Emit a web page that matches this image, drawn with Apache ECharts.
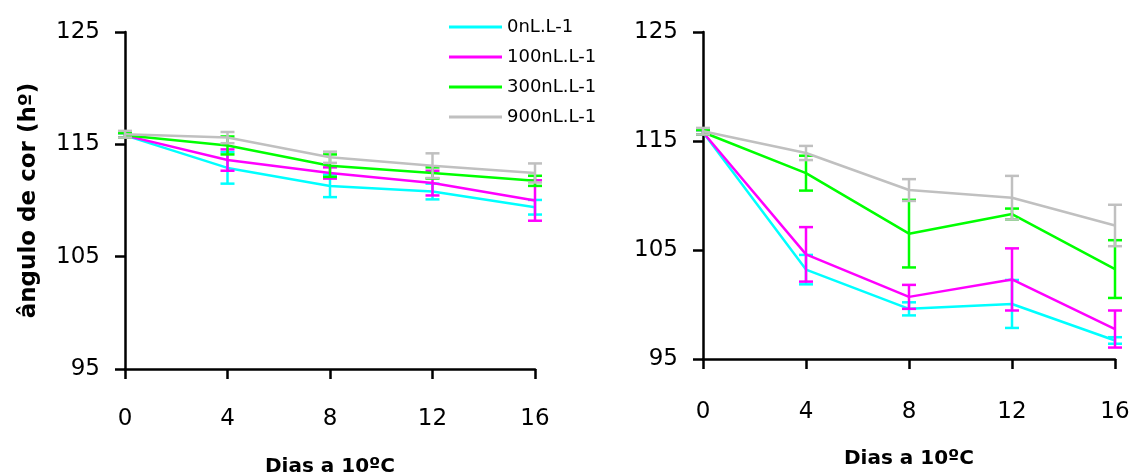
<!DOCTYPE html>
<html>
<head>
<meta charset="utf-8">
<script src="https://cdn.jsdelivr.net/npm/echarts@6/dist/echarts.min.js"></script>
<style>
  html, body { margin: 0; padding: 0; background: #fff; }
  #chart { width: 1132px; height: 476px; }
</style>
</head>
<body>
<div id="chart"></div>
<script>
// Storage days at 10 ºC
const days = [0, 4, 8, 12, 16];
const seriesNames = ['0nL.L-1', '100nL.L-1', '300nL.L-1', '900nL.L-1'];
const seriesColors = ['#00ffff', '#ff00ff', '#00ff00', '#c0c0c0'];
const yTicks = [95, 105, 115, 125];

// Panel 1: mean hue angle and standard error per treatment
const left0 = [115.8, 112.9, 111.3, 110.8, 109.4];
const left0Err = [0.2, 1.4, 1.0, 0.7, 0.65];
const left100 = [115.8, 113.6, 112.45, 111.55, 110.0];
const left100Err = [0.2, 0.95, 0.5, 1.1, 1.8];
const left300 = [115.8, 114.9, 113.1, 112.45, 111.75];
const left300Err = [0.2, 0.8, 1.0, 0.5, 0.45];
const left900 = [115.9, 115.6, 113.85, 113.1, 112.45];
const left900Err = [0.3, 0.5, 0.5, 1.1, 0.85];

// Panel 2
const right0 = [115.8, 103.2, 99.6, 100.05, 96.7];
const right0Err = [0.2, 1.35, 0.6, 2.2, 0.3];
const right100 = [115.8, 104.6, 100.7, 102.3, 97.75];
const right100Err = [0.2, 2.5, 1.1, 2.85, 1.7];
const right300 = [115.8, 112.05, 106.5, 108.3, 103.25];
const right300Err = [0.2, 1.6, 3.1, 0.5, 2.65];
const right900 = [115.9, 113.9, 110.5, 109.8, 107.25];
const right900Err = [0.3, 0.65, 1.0, 2.0, 1.9];

const panels = [
  { values: [left0, left100, left300, left900], errors: [left0Err, left100Err, left300Err, left900Err] },
  { values: [right0, right100, right300, right900], errors: [right0Err, right100Err, right300Err, right900Err] }
];

const tickFont = 'DejaVu Sans';

function renderErrorBar(params, api) {
  const x = api.value(0);
  const lo = api.coord([x, api.value(1)]);
  const hi = api.coord([x, api.value(2)]);
  const cap = 7;
  const style = { stroke: api.visual('color'), lineWidth: 2.5 };
  return {
    type: 'group',
    children: [
      { type: 'line', shape: { x1: lo[0], y1: lo[1], x2: hi[0], y2: hi[1] }, style: style },
      { type: 'line', shape: { x1: lo[0] - cap, y1: lo[1], x2: lo[0] + cap, y2: lo[1] }, style: style },
      { type: 'line', shape: { x1: hi[0] - cap, y1: hi[1], x2: hi[0] + cap, y2: hi[1] }, style: style }
    ]
  };
}

const axisLine = { lineStyle: { color: '#000', width: 2.5 } };
const axisTick = { length: 10, lineStyle: { color: '#000', width: 2.5 } };

function xAxis(gridIndex, margin, nameGap) {
  return {
    type: 'value', gridIndex: gridIndex, min: 0, max: 16, interval: 4,
    axisLine: axisLine, axisTick: axisTick, splitLine: { show: false },
    axisLabel: { color: '#000', fontFamily: tickFont, fontSize: 23, margin: margin },
    name: 'Dias a 10ºC', nameLocation: 'middle', nameGap: nameGap,
    nameTextStyle: { color: '#000', fontFamily: 'DejaVu Sans', fontWeight: 'bold', fontSize: 20 }
  };
}

function yAxis(gridIndex, withName) {
  const ax = {
    type: 'value', gridIndex: gridIndex, min: yTicks[0], max: yTicks[yTicks.length - 1], interval: 10,
    axisLine: axisLine, axisTick: axisTick, splitLine: { show: false },
    axisLabel: { color: '#000', fontFamily: tickFont, fontSize: 23, margin: 25 }
  };
  if (withName) {
    ax.name = 'ângulo de cor (hº)';
    ax.nameLocation = 'middle';
    ax.nameGap = 84;
    ax.nameRotate = 90;
    ax.nameTextStyle = { color: '#000', fontFamily: 'DejaVu Sans', fontWeight: 'bold', fontSize: 23 };
  }
  return ax;
}

const series = [];
panels.forEach(function (panel, p) {
  panel.values.forEach(function (vals, k) {
    const errs = panel.errors[k];
    series.push({
      name: seriesNames[k] + ' erro',
      type: 'custom',
      xAxisIndex: p, yAxisIndex: p,
      renderItem: renderErrorBar,
      itemStyle: { color: seriesColors[k] },
      encode: { x: 0, y: [1, 2] },
      data: days.map(function (d, i) { return [d, vals[i] - errs[i], vals[i] + errs[i]]; }),
      z: 2 + k
    });
    series.push({
      name: seriesNames[k],
      type: 'line',
      xAxisIndex: p, yAxisIndex: p,
      symbol: 'none',
      lineStyle: { color: seriesColors[k], width: 2.5 },
      itemStyle: { color: seriesColors[k] },
      data: days.map(function (d, i) { return [d, vals[i]]; }),
      z: 2 + k
    });
  });
});

const chart = echarts.init(document.getElementById('chart'), null, { renderer: 'canvas' });
chart.setOption({
  animation: false,
  backgroundColor: '#fff',
  legend: {
    orient: 'vertical', left: 444, top: 13,
    itemWidth: 53, itemHeight: 3, itemGap: 12, icon: 'rect',
    textStyle: { color: '#000', fontFamily: 'DejaVu Sans', fontSize: 18 },
    data: seriesNames
  },
  grid: [
    { left: 125, top: 32, width: 410, height: 337, outerBoundsMode: 'none' },
    { left: 703, top: 32, width: 412, height: 327, outerBoundsMode: 'none' }
  ],
  xAxis: [xAxis(0, 39, 88), xAxis(1, 42, 90)],
  yAxis: [yAxis(0, true), yAxis(1, false)],
  series: series
});
</script>
</body>
</html>
